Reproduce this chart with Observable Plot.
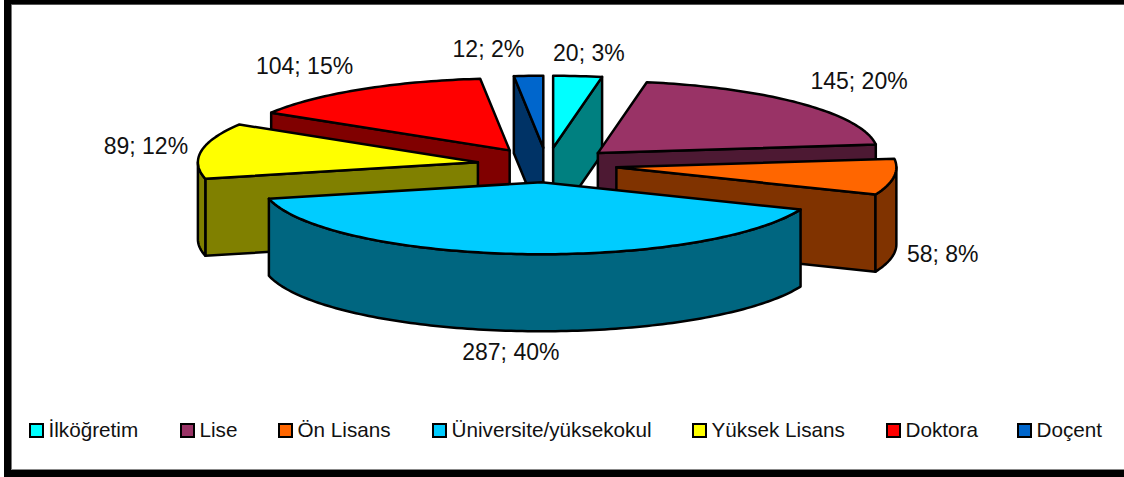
<!DOCTYPE html>
<html>
<head>
<meta charset="utf-8">
<script src="https://cdn.jsdelivr.net/npm/d3@7"></script>
<script src="https://cdn.jsdelivr.net/npm/@observablehq/plot@0.6"></script>
<style>
html,body{margin:0;padding:0;background:#fff;}
#frame{position:relative;width:1124px;height:477px;overflow:hidden;font-family:"Liberation Sans",Arial,sans-serif;color:#111;background:#fff;}
#frame svg{position:absolute;left:0;top:0;}
.bar{position:absolute;}
.item{position:absolute;top:418px;font-size:20.7px;line-height:24px;white-space:nowrap;}
.sw{position:absolute;top:423px;width:10.5px;height:10.5px;border:2.5px solid #000;}
</style>
</head>
<body>
<div id="frame"></div>
<script>
const categories = ["İlköğretim","Lise","Ön Lisans","Üniversite/yüksekokul","Yüksek Lisans","Doktora","Doçent"];
const values = [20,145,58,287,89,104,12];
const percents = [3,20,8,40,12,15,2];
const topColors = ["#00FFFF","#993366","#FF6600","#00CCFF","#FFFF00","#FF0000","#0066CC"];
const sideColors = ["#008080","#4D1933","#803300","#006680","#808000","#800000","#003366"];
const drawOrder = [0,6,5,1,4,2,3];
const labelDx = [4.5,6.5,-21,-3.5,13,-19,-37];
const labelDy = [3,-4,-3,-4,0,-0.5,0];
const legendSwatchX = [29,180,278,432,692,886,1017];

const explodeX = 0.25, explodeY = 0.24, thickness = 1.07;
const total = d3.sum(values);
let cum = 0;
const slices = values.map((v,i)=>{
  const a0 = cum/total*2*Math.PI; cum += v;
  const a1 = cum/total*2*Math.PI;
  const mid = (a0+a1)/2;
  return {i,a0,a1,mid,ox:explodeX*Math.sin(mid),oy:explodeY*Math.cos(mid)};
});
function arc(s,a,b,dz=0){
  const n = Math.max(2,Math.ceil((b-a)/0.02)), pts=[];
  for(let k=0;k<=n;k++){const t=a+(b-a)*k/n;pts.push([s.ox+Math.sin(t),s.oy+Math.cos(t)-dz]);}
  return pts;
}
const shapes = [];
function add(pts,fill){shapes.push(pts.map(([x,y])=>({x,y,fill})));}
for(const i of drawOrder){
  const s = slices[i], dark = sideColors[i];
  const A=[s.ox,s.oy], D=[s.ox,s.oy-thickness];
  const end=(t,dz)=>[s.ox+Math.sin(t),s.oy+Math.cos(t)-dz];
  if(Math.sin(s.a0)<0) add([A,end(s.a0,0),end(s.a0,thickness),D],dark);
  if(Math.sin(s.a1)>0) add([A,end(s.a1,0),end(s.a1,thickness),D],dark);
  const ra=Math.max(s.a0,Math.PI/2), rb=Math.min(s.a1,3*Math.PI/2);
  if(rb>ra) add([...arc(s,ra,rb),...arc(s,ra,rb,thickness).reverse()],dark);
  add([A,...arc(s,s.a0,s.a1)],topColors[i]);
}
const labels = slices.map(s=>({
  text:`${values[s.i]}; ${percents[s.i]}%`,
  x:1.5*Math.sin(s.mid),
  y:1.6*Math.cos(s.mid)-(Math.cos(s.mid)<0?thickness:0),
  dx:labelDx[s.i],dy:labelDy[s.i]
}));

const chart = Plot.plot({
  width:1124,height:410,margin:0,
  x:{domain:[-1,1],range:[266.5,826.5],axis:null},
  y:{domain:[-1,1],range:[236.5,92.5],axis:null},
  style:{background:"transparent"},
  marks:[
    ...shapes.map(p=>Plot.line(p,{x:"x",y:"y",fill:p[0].fill,stroke:"#000",strokeWidth:2.5,curve:"linear-closed"})),
    ...labels.map(l=>Plot.text([l],{x:"x",y:"y",text:"text",dx:l.dx+0.5,dy:l.dy,fontSize:23,fontFamily:"Liberation Sans",fill:"#111"}))
  ]
});
const frame = document.getElementById("frame");
frame.appendChild(chart);
categories.forEach((c,i)=>{
  const sw=document.createElement("div");sw.className="sw";
  sw.style.left=legendSwatchX[i]+"px";sw.style.background=topColors[i];frame.appendChild(sw);
  const t=document.createElement("div");t.className="item";t.textContent=c;
  t.style.left=(legendSwatchX[i]+19.5)+"px";frame.appendChild(t);
});
[[4,0,1120,4,"#000"],[4,0,7,477,"#000"],[4,470,1120,7,"#000"],[11,4,1,466,"#777"],[11,4,1113,1,"#555"],[11,469,1113,1,"#888"]].forEach(([l,tp,w,h,c])=>{
  const b=document.createElement("div");b.className="bar";
  b.style.cssText+=`left:${l}px;top:${tp}px;width:${w}px;height:${h}px;background:${c};`;
  frame.appendChild(b);
});
</script>
</body>
</html>
